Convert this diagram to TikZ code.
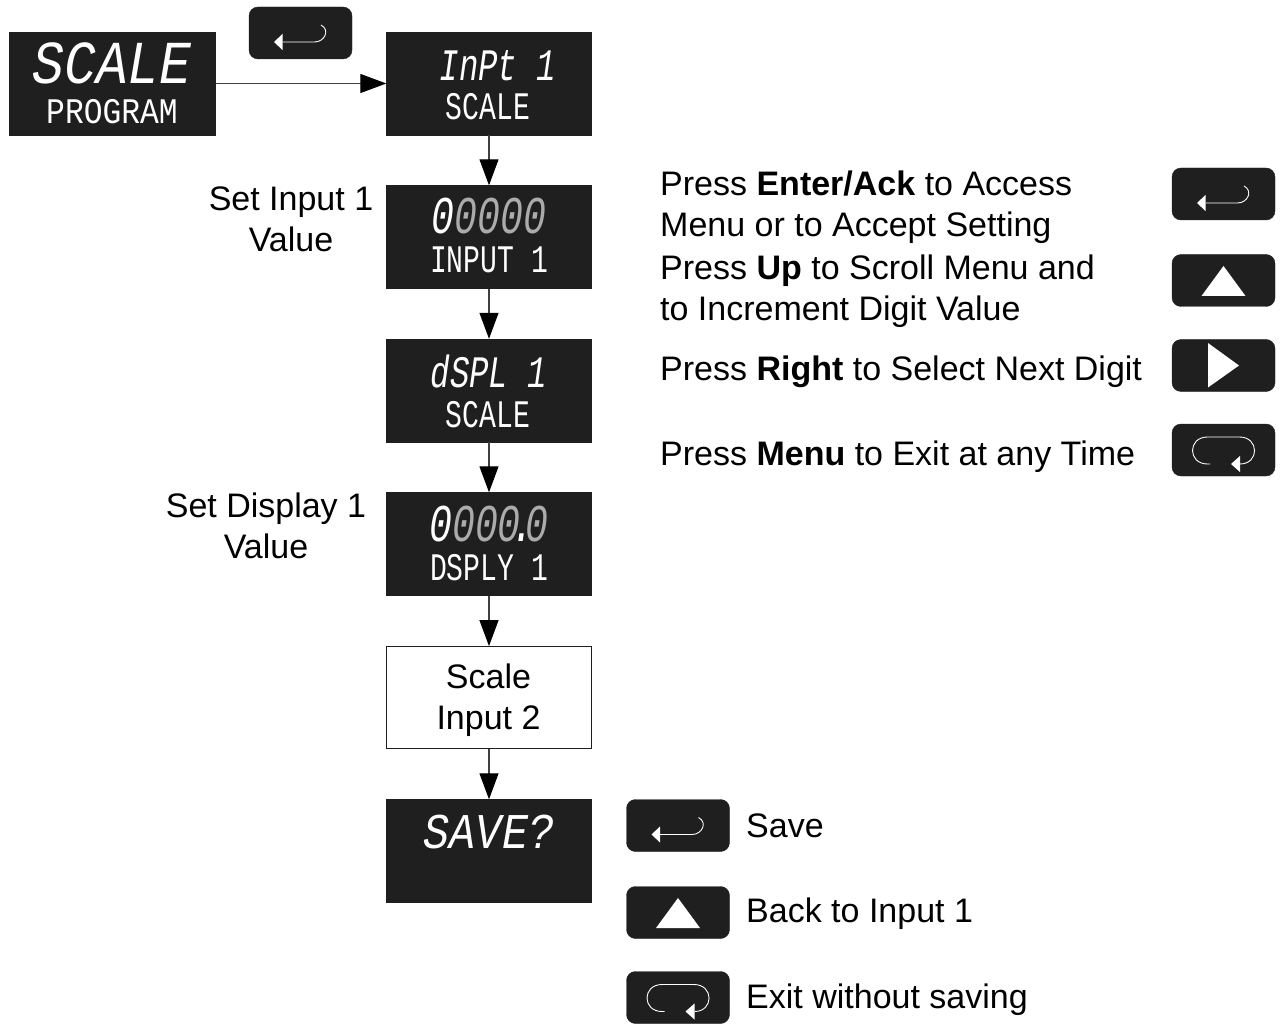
\documentclass[tikz,border=0pt]{standalone}
\usepackage{fontspec}
\setmainfont{Liberation Sans}
\newfontfamily\lcdfont[FakeStretch=0.72]{Liberation Mono}
\newfontfamily\lcdwide[FakeStretch=0.87]{Liberation Mono}
\usepackage{tikz}
\usetikzlibrary{arrows.meta}
\definecolor{panel}{HTML}{1F1F1F}
\definecolor{lcdgray}{HTML}{ABABAB}
\tikzstyle{display}=[rectangle,fill=panel,draw=panel,minimum width=205pt,minimum height=103pt,inner sep=0pt,anchor=center]
\tikzstyle{keycap}=[rectangle,rounded corners=9pt,fill=panel,draw=panel,minimum width=103pt,minimum height=52pt,inner sep=0pt,anchor=center]
\tikzstyle{lcdbig}=[text=white,inner sep=0pt,anchor=base,font=\fontsize{45}{45}\selectfont\lcdfont\itshape]
\tikzstyle{lcdsmall}=[text=white,inner sep=0pt,anchor=base,font=\fontsize{39}{39}\selectfont\lcdfont]
\tikzstyle{annot}=[align=center,inner sep=0pt,font=\fontsize{34}{41}\selectfont]
\tikzstyle{flow}=[draw=black!75,line width=1.2pt,-{Triangle[length=26pt,width=19pt,black]}]
\newcommand{\drawenterkey}[2]
{
  \node[keycap](#1) at (#2){};
  \begin{scope}[shift={(#1.center)}]
    \draw[white,line width=0.9pt] (-18,9) -- (14,9) .. controls (24,9) and (30,-3) .. (20.5,-8);
    \fill[white] (-26.5,9) -- (-18,1) -- (-18,17) -- cycle;
  \end{scope}
}
\newcommand{\drawupkey}[2]
{
  \node[keycap](#1) at (#2){};
  \fill[white,shift={(#1.center)}] (0,-14.5) -- (22,15.5) -- (-22,15.5) -- cycle;
}
\newcommand{\drawrightkey}[2]
{
  \node[keycap](#1) at (#2){};
  \fill[white,shift={(#1.center)}] (-15.5,-22.5) -- (15.5,0) -- (-15.5,22) -- cycle;
}
\newcommand{\drawmenukey}[2]
{
  \node[keycap](#1) at (#2){};
  \begin{scope}[shift={(#1.center)}]
    \draw[white,line width=0.9pt] (-13.5,14) -- (-16,14) .. controls (-36,14) and (-36,-13) .. (-16,-13) -- (16,-13) .. controls (36,-13) and (36,14) .. (16.5,14);
    \fill[white] (7.5,14) -- (16.5,6) -- (16.5,22) -- cycle;
  \end{scope}
}

\begin{document}
\begin{tikzpicture}[x=1pt,y=-1pt]
	\useasboundingbox (0,0) rectangle (1280,1024);

	% flow column
	\node[display,minimum width=206pt](program) at (112.5,83.5){};
	\node[display](inpt) at (489,83.5){};
	\node[display](setinput) at (489,237){};
	\node[display](dspl) at (489,390.5){};
	\node[display](setdisplay) at (489,544){};
	\node[rectangle,draw=panel,line width=0.8pt,minimum width=205pt,minimum height=102pt,inner sep=0pt](scaleinput) at (489,697.5){};
	\node[display](save) at (489,851){};

	% display texts
	\node[lcdbig,font=\fontsize{61}{61}\selectfont\lcdwide\itshape](scalebig) at (112,84) {SCALE};
	\node[lcdsmall,font=\fontsize{36}{36}\selectfont\lcdwide](programtxt) at (112,124) {PROGRAM};
	\node[lcdbig](inpttxt) at (498,81) {InPt 1};
	\node[lcdsmall](scaleone) at (488,120) {SCALE};
	\node[lcdbig,font=\fontsize{53}{53}\selectfont\lcdfont\itshape](digitsone) at (489,234) {0{\color{lcdgray}0000}};
	\node[lcdsmall](inputtxt) at (489,273) {INPUT 1};
	\node[lcdbig](dspltxt) at (489,387) {dSPL 1};
	\node[lcdsmall](scaletwo) at (488,427) {SCALE};
	\node[lcdbig,font=\fontsize{53}{53}\selectfont\lcdfont\itshape](digitstwo) at (489,541) {0{\color{lcdgray}000}\kern-9pt.\kern-9pt{\color{lcdgray}0}};
	\node[lcdsmall](dsplytxt) at (489,580) {DSPLY 1};
	\node[lcdbig,font=\fontsize{50}{50}\selectfont\lcdwide\itshape](savetxt) at (489,848) {SAVE?};

	\node[annot](scaleinputtxt) at (488.5,700) {Scale\\Input 2};
	\node[annot](setinputtxt) at (291,219) {Set Input 1\\Value};
	\node[annot](setdisplaytxt) at (266,526) {Set Display 1\\Value};

	% connectors
	\draw[flow] (program) -- (inpt);
	\draw[flow] (inpt) -- (setinput);
	\draw[flow] (setinput) -- (dspl);
	\draw[flow] (dspl) -- (setdisplay);
	\draw[flow] (setdisplay) -- (scaleinput);
	\draw[flow] (scaleinput) -- (save);

	\drawenterkey{topenter}{300.5,33}

	% legend
	\drawenterkey{legendenter}{1223.5,194}
	\drawupkey{legendup}{1223.5,280.5}
	\drawrightkey{legendright}{1223.5,365.5}
	\drawmenukey{legendmenu}{1223.5,450}
	\node[annot,align=left,anchor=west](entertxt) at (660,207) {Press \textbf{Enter/Ack} to Access\\Menu or to Accept Setting};
	\node[annot,align=left,anchor=west](uptxt) at (660,291) {Press \textbf{Up} to Scroll Menu and\\to Increment Digit Value};
	\node[annot,align=left,anchor=base west](righttxt) at (660,380) {Press \textbf{Right} to Select Next Digit};
	\node[annot,align=left,anchor=base west](menutxt) at (660,465) {Press \textbf{Menu} to Exit at any Time};

	% exit choices
	\drawenterkey{saveenter}{678,825.5}
	\drawupkey{saveup}{678,912.5}
	\drawmenukey{savemenu}{678,997.5}
	\node[annot,align=left,anchor=base west](savetxtb) at (746,837) {Save};
	\node[annot,align=left,anchor=base west](backtxt) at (746,922) {Back to Input 1};
	\node[annot,align=left,anchor=base west](exittxt) at (746,1008) {Exit without saving};
\end{tikzpicture}
\end{document}
